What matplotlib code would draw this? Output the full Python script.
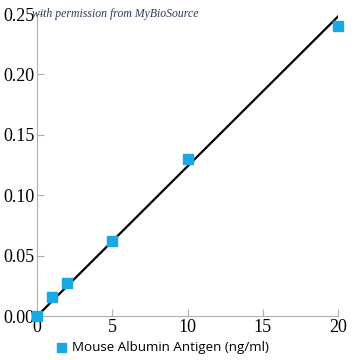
import numpy as np
import matplotlib.pyplot as plt

# standard curve
conc = [0, 1, 2, 5, 10, 20]
od = [0.0, 0.0155, 0.027, 0.062, 0.130, 0.240]
fit_x = [0, 20]
fit_y = [0.0, 0.248]

xticks = [0, 5, 10, 15, 20]
yticks = [0.00, 0.05, 0.10, 0.15, 0.20, 0.25]

fig = plt.figure(figsize=(3.6, 3.6), dpi=100)
ax = fig.add_axes([0.103, 0.122, 0.836, 0.839])

ax.plot(fit_x, fit_y, color='black', lw=1.6, zorder=2)
ax.plot(conc, od, 's', color='#1aa7e4', ms=7.2, zorder=3, clip_on=False,
        label='Mouse Albumin Antigen (ng/ml)')

ax.set_xlim(0, 20)
ax.set_ylim(0, 0.25)
ax.set_xticks(xticks)
ax.set_yticks(yticks)
ax.set_xticklabels([str(t) for t in xticks])
ax.set_yticklabels(['%.2f' % t for t in yticks])
for s in ['top', 'right']:
    ax.spines[s].set_visible(False)
for s in ['left', 'bottom']:
    ax.spines[s].set_color('#b0b0b0')
    ax.spines[s].set_linewidth(0.8)
ax.tick_params(direction='in', length=5, color='#b0b0b0', width=0.8,
               labelsize=13, pad=2)
for lab in ax.get_xticklabels() + ax.get_yticklabels():
    lab.set_family('Liberation Serif')

fig.legend(loc='center left', bbox_to_anchor=(0.158, 0.034), frameon=False,
           handlelength=0.6, handletextpad=0.5, markerscale=0.9,
           borderaxespad=0, borderpad=0,
           prop={'family': 'Open Sans', 'size': 9.6})

fig.text(0.088, 0.953, 'with permission from MyBioSource', style='italic',
         family='Liberation Serif', fontsize=8.5, color='#2a3a5a', zorder=0)

fig.savefig('out.png', dpi=100)
